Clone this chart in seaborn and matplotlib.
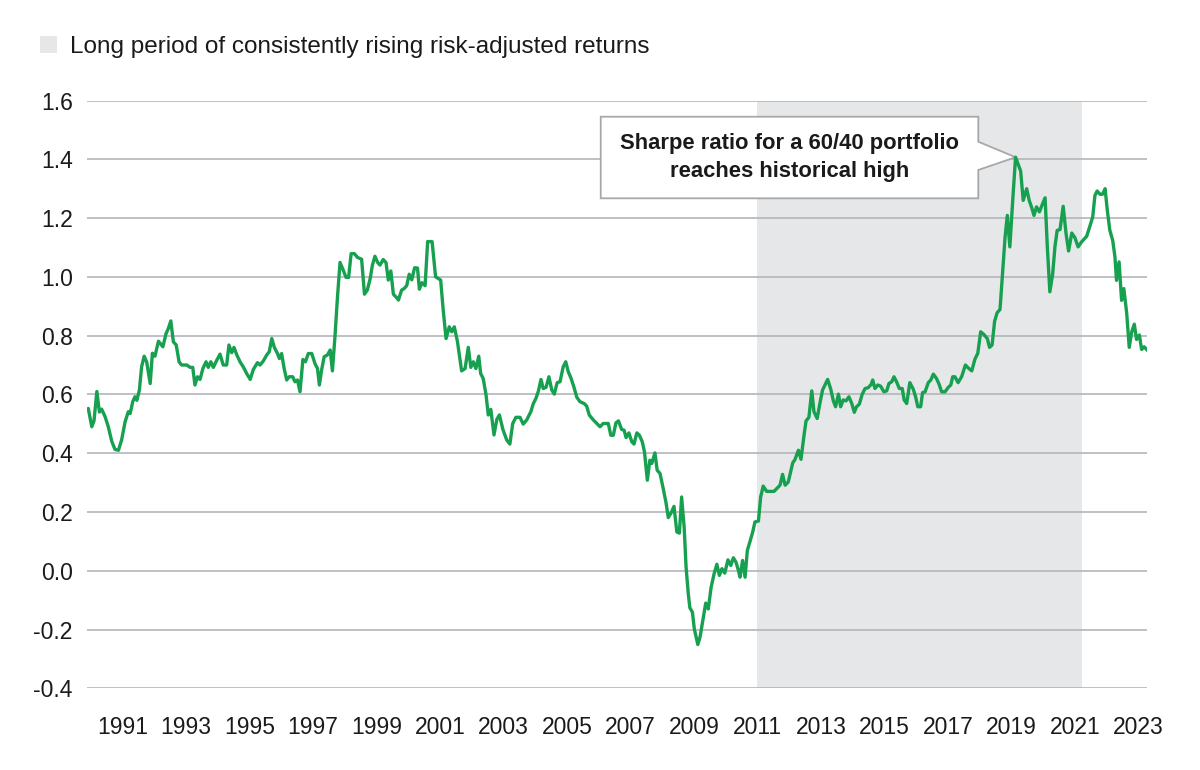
import matplotlib
matplotlib.use("Agg")
import matplotlib.pyplot as plt
import seaborn as sns
import pandas as pd
from matplotlib.patches import Patch, Polygon

# ---------------- data ----------------
years = [
    1989.92, 1990.03, 1990.10, 1990.19, 1990.27, 1990.34, 1990.45, 1990.55, 1990.66, 1990.76,
    1990.87, 1990.97, 1991.08, 1991.18, 1991.24, 1991.32, 1991.39, 1991.45, 1991.53, 1991.60,
    1991.68, 1991.76, 1991.87, 1991.94, 1992.02, 1992.13, 1992.27, 1992.37, 1992.44, 1992.52,
    1992.60, 1992.69, 1992.78, 1992.86, 1993.02, 1993.13, 1993.21, 1993.28, 1993.36, 1993.44,
    1993.53, 1993.63, 1993.70, 1993.78, 1993.86, 1993.97, 1994.07, 1994.17, 1994.28, 1994.35,
    1994.44, 1994.51, 1994.60, 1994.70, 1994.80, 1994.91, 1995.02, 1995.12, 1995.25, 1995.33,
    1995.43, 1995.54, 1995.62, 1995.70, 1995.78, 1995.88, 1995.94, 1996.01, 1996.09, 1996.17,
    1996.25, 1996.36, 1996.43, 1996.51, 1996.59, 1996.68, 1996.76, 1996.85, 1996.96, 1997.06,
    1997.14, 1997.20, 1997.27, 1997.35, 1997.45, 1997.54, 1997.61, 1997.69, 1997.77, 1997.85,
    1997.95, 1998.04, 1998.12, 1998.20, 1998.30, 1998.40, 1998.53, 1998.62, 1998.71, 1998.80,
    1998.87, 1998.95, 1999.04, 1999.11, 1999.21, 1999.30, 1999.37, 1999.45, 1999.53, 1999.61,
    1999.69, 1999.79, 1999.87, 1999.95, 2000.03, 2000.11, 2000.20, 2000.29, 2000.35, 2000.43,
    2000.53, 2000.61, 2000.75, 2000.86, 2001.02, 2001.10, 2001.19, 2001.29, 2001.37, 2001.45,
    2001.55, 2001.68, 2001.79, 2001.89, 2001.97, 2002.05, 2002.13, 2002.22, 2002.28, 2002.36,
    2002.45, 2002.52, 2002.60, 2002.70, 2002.79, 2002.87, 2002.98, 2003.10, 2003.20, 2003.29,
    2003.39, 2003.52, 2003.62, 2003.73, 2003.86, 2003.94, 2004.02, 2004.10, 2004.18, 2004.25,
    2004.34, 2004.43, 2004.52, 2004.60, 2004.69, 2004.78, 2004.88, 2004.96, 2005.04, 2005.13,
    2005.22, 2005.31, 2005.41, 2005.54, 2005.62, 2005.70, 2005.83, 2005.94, 2006.04, 2006.14,
    2006.30, 2006.38, 2006.46, 2006.54, 2006.62, 2006.72, 2006.80, 2006.86, 2006.95, 2007.04,
    2007.11, 2007.20, 2007.28, 2007.37, 2007.44, 2007.53, 2007.61, 2007.67, 2007.77, 2007.84,
    2007.93, 2008.03, 2008.12, 2008.19, 2008.28, 2008.37, 2008.46, 2008.54, 2008.61, 2008.69,
    2008.75, 2008.82, 2008.87, 2008.95, 2009.01, 2009.12, 2009.19, 2009.26, 2009.37, 2009.45,
    2009.54, 2009.63, 2009.72, 2009.80, 2009.88, 2009.97, 2010.07, 2010.16, 2010.24, 2010.32,
    2010.40, 2010.45, 2010.53, 2010.61, 2010.68, 2010.76, 2010.85, 2010.92, 2011.03, 2011.10,
    2011.18, 2011.29, 2011.52, 2011.71, 2011.79, 2011.87, 2011.97, 2012.11, 2012.18, 2012.29,
    2012.37, 2012.46, 2012.53, 2012.62, 2012.71, 2012.78, 2012.88, 2012.97, 2013.05, 2013.21,
    2013.31, 2013.39, 2013.46, 2013.55, 2013.62, 2013.70, 2013.79, 2013.88, 2013.97, 2014.05,
    2014.12, 2014.21, 2014.30, 2014.39, 2014.49, 2014.58, 2014.63, 2014.70, 2014.79, 2014.88,
    2014.98, 2015.07, 2015.14, 2015.23, 2015.30, 2015.38, 2015.47, 2015.56, 2015.62, 2015.70,
    2015.80, 2015.91, 2015.98, 2016.05, 2016.14, 2016.20, 2016.28, 2016.38, 2016.46, 2016.54,
    2016.64, 2016.72, 2016.80, 2016.91, 2017.01, 2017.09, 2017.15, 2017.22, 2017.32, 2017.43,
    2017.55, 2017.64, 2017.75, 2017.85, 2017.94, 2018.03, 2018.13, 2018.24, 2018.31, 2018.39,
    2018.47, 2018.55, 2018.64, 2018.72, 2018.80, 2018.87, 2018.95, 2019.04, 2019.13, 2019.21,
    2019.29, 2019.37, 2019.48, 2019.56, 2019.64, 2019.71, 2019.79, 2019.88, 2019.96, 2020.06,
    2020.13, 2020.21, 2020.30, 2020.37, 2020.44, 2020.53, 2020.63, 2020.72, 2020.80, 2020.90,
    2021.00, 2021.10, 2021.21, 2021.37, 2021.47, 2021.56, 2021.63, 2021.70, 2021.79, 2021.87,
    2021.95, 2022.02, 2022.10, 2022.19, 2022.26, 2022.31, 2022.39, 2022.47, 2022.54, 2022.63,
    2022.71, 2022.79, 2022.87, 2022.94, 2023.03, 2023.10, 2023.18, 2023.28,
]

sharpe = [
    0.552, 0.490, 0.510, 0.610, 0.540, 0.550, 0.524, 0.490, 0.440, 0.413,
    0.410, 0.445, 0.507, 0.541, 0.535, 0.575, 0.592, 0.580, 0.615, 0.694,
    0.730, 0.710, 0.637, 0.740, 0.730, 0.781, 0.762, 0.807, 0.824, 0.850,
    0.779, 0.768, 0.711, 0.700, 0.700, 0.692, 0.692, 0.632, 0.660, 0.651,
    0.688, 0.711, 0.692, 0.711, 0.692, 0.717, 0.737, 0.700, 0.700, 0.768,
    0.742, 0.760, 0.734, 0.711, 0.694, 0.671, 0.651, 0.685, 0.708, 0.700,
    0.713, 0.734, 0.745, 0.790, 0.760, 0.739, 0.722, 0.739, 0.688, 0.649,
    0.660, 0.660, 0.643, 0.649, 0.609, 0.719, 0.711, 0.739, 0.739, 0.705,
    0.688, 0.632, 0.683, 0.728, 0.734, 0.751, 0.680, 0.796, 0.932, 1.049,
    1.023, 0.998, 0.998, 1.079, 1.079, 1.066, 1.060, 0.941, 0.955, 0.994,
    1.040, 1.070, 1.048, 1.040, 1.059, 1.048, 0.989, 1.020, 0.941, 0.932,
    0.921, 0.955, 0.960, 0.970, 1.009, 0.990, 1.031, 1.030, 0.958, 0.980,
    0.970, 1.120, 1.120, 1.000, 0.989, 0.887, 0.790, 0.830, 0.813, 0.830,
    0.779, 0.680, 0.688, 0.760, 0.692, 0.711, 0.688, 0.730, 0.671, 0.654,
    0.598, 0.530, 0.549, 0.462, 0.515, 0.530, 0.481, 0.445, 0.431, 0.501,
    0.522, 0.522, 0.499, 0.513, 0.541, 0.569, 0.586, 0.612, 0.651, 0.620,
    0.624, 0.660, 0.615, 0.601, 0.640, 0.643, 0.694, 0.711, 0.677, 0.654,
    0.624, 0.590, 0.575, 0.569, 0.560, 0.530, 0.513, 0.501, 0.490, 0.501,
    0.501, 0.461, 0.461, 0.503, 0.510, 0.481, 0.478, 0.453, 0.469, 0.439,
    0.431, 0.469, 0.461, 0.439, 0.405, 0.308, 0.376, 0.365, 0.401, 0.342,
    0.331, 0.280, 0.231, 0.181, 0.197, 0.219, 0.132, 0.128, 0.251, 0.149,
    0.013, -0.078, -0.126, -0.141, -0.198, -0.251, -0.226, -0.181, -0.110, -0.130,
    -0.056, -0.012, 0.022, -0.016, 0.007, -0.008, 0.037, 0.018, 0.044, 0.030,
    0.001, -0.022, 0.035, -0.022, 0.069, 0.098, 0.132, 0.166, 0.169, 0.251,
    0.288, 0.270, 0.270, 0.291, 0.328, 0.291, 0.302, 0.367, 0.378, 0.410,
    0.379, 0.456, 0.510, 0.522, 0.612, 0.541, 0.518, 0.572, 0.615, 0.651,
    0.617, 0.578, 0.558, 0.601, 0.558, 0.581, 0.578, 0.592, 0.569, 0.539,
    0.558, 0.567, 0.601, 0.620, 0.623, 0.634, 0.649, 0.620, 0.632, 0.628,
    0.609, 0.612, 0.637, 0.643, 0.660, 0.643, 0.620, 0.620, 0.581, 0.569,
    0.640, 0.617, 0.592, 0.558, 0.558, 0.606, 0.609, 0.640, 0.649, 0.669,
    0.654, 0.635, 0.609, 0.609, 0.624, 0.632, 0.660, 0.660, 0.640, 0.660,
    0.700, 0.690, 0.680, 0.720, 0.740, 0.813, 0.804, 0.790, 0.760, 0.768,
    0.849, 0.878, 0.889, 1.011, 1.136, 1.209, 1.102, 1.260, 1.407, 1.383,
    1.360, 1.260, 1.300, 1.260, 1.235, 1.209, 1.238, 1.221, 1.243, 1.269,
    1.102, 0.949, 1.011, 1.102, 1.158, 1.161, 1.240, 1.147, 1.088, 1.149,
    1.133, 1.102, 1.119, 1.138, 1.172, 1.204, 1.277, 1.292, 1.281, 1.281,
    1.300, 1.226, 1.158, 1.124, 1.068, 0.988, 1.051, 0.920, 0.960, 0.877,
    0.760, 0.813, 0.839, 0.787, 0.802, 0.753, 0.762, 0.750,
]

shade_start, shade_end = 2011.0, 2021.22
tick_years = list(range(1991, 2024, 2))
tick_labels = [str(y) for y in tick_years]
y_ticks = [-0.4, -0.2, 0.0, 0.2, 0.4, 0.6, 0.8, 1.0, 1.2, 1.4, 1.6]
y_labels = ["-0.4", "-0.2", "0.0", "0.2", "0.4", "0.6", "0.8", "1.0", "1.2", "1.4", "1.6"]
legend_label = "Long period of consistently rising risk-adjusted returns"
callout_text = "Sharpe ratio for a 60/40 portfolio\nreaches historical high"

# ---------------- styling ----------------
GREEN = "#16a04f"
SHADE = "#e6e7e9"
GRID = "#b4b4bc"
TEXT = "#1a1a1a"

sns.set_theme(style="white")
plt.rcParams["font.family"] = ["Liberation Sans", "DejaVu Sans"]

df = pd.DataFrame({"year": years, "sharpe": sharpe})

fig = plt.figure(figsize=(12, 7.7), dpi=100)
ax = fig.add_axes([0.07225, 0.1061, 0.88358, 0.76338])

xlim = (1989.87, 2023.27)
ylim = (-0.4, 1.6)

ax.axvspan(shade_start, shade_end, color=SHADE, lw=0, zorder=0.2)
sns.lineplot(data=df, x="year", y="sharpe", ax=ax, color=GREEN, linewidth=2.4,
             sort=False, zorder=3)

ax.set_xlim(*xlim)
ax.set_ylim(*ylim)
ax.set_xticks(tick_years)
ax.set_xticklabels(tick_labels)
ax.set_yticks(y_ticks)
ax.set_yticklabels(y_labels)
ax.set_xlabel("")
ax.set_ylabel("")
ax.tick_params(axis="x", length=0, pad=20, labelsize=16.5, labelcolor=TEXT)
ax.tick_params(axis="y", length=0, pad=10, labelsize=16.5, labelcolor=TEXT)
ax.yaxis.grid(True, color=GRID, linewidth=1.2)
ax.xaxis.grid(False)
ax.set_axisbelow(True)
for s in ax.spines.values():
    s.set_visible(False)
ax.patch.set_alpha(0)

# callout box pointing at the series peak
i_peak = max(range(len(sharpe)), key=lambda i: sharpe[i])
tx = (years[i_peak] - xlim[0]) / (xlim[1] - xlim[0])
ty = (sharpe[i_peak] - ylim[0]) / (ylim[1] - ylim[0])
x0, x1, y0, y1 = 0.4848, 0.8409, 0.8336, 0.9724
p_lo, p_hi = 0.8818, 0.9299
poly = Polygon([(x0, y0), (x1, y0), (x1, p_lo), (tx, ty), (x1, p_hi), (x1, y1), (x0, y1)],
               closed=True, transform=ax.transAxes, facecolor="white",
               edgecolor="#a8a8a8", linewidth=1.3, zorder=2.5)
ax.add_patch(poly)
ax.text((x0 + x1) / 2, (y0 + y1) / 2, callout_text, transform=ax.transAxes,
        ha="center", va="center", fontsize=15.8, fontweight="bold",
        color=TEXT, linespacing=1.38, zorder=4)

# legend
fig.legend(handles=[Patch(facecolor=SHADE, edgecolor="none", label=legend_label)],
           loc="upper left", bbox_to_anchor=(0.0333, 0.953), frameon=False,
           fontsize=17.5, handlelength=0.7, handleheight=0.7, handletextpad=0.55,
           borderpad=0, borderaxespad=0, labelcolor=TEXT)

fig.savefig("out.png", dpi=100)
